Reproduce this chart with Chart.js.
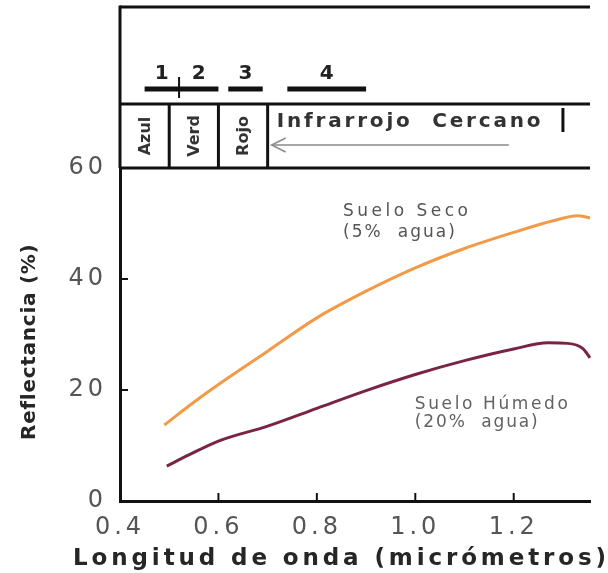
<!DOCTYPE html>
<html>
<head>
<meta charset="utf-8">
<script src="https://cdn.jsdelivr.net/npm/chart.js@4.4.1/dist/chart.umd.min.js"></script>
<style>
  html, body { margin: 0; padding: 0; background: #fff; }
  #wrap { width: 608px; height: 573px; position: relative; }
</style>
</head>
<body>
<div id="wrap"><canvas id="c" width="608" height="573"></canvas></div>
<script>
// Spectral reflectance of bare soil at two moisture contents
const wavelengthDry = [0.49, 0.55, 0.60, 0.70, 0.80, 0.90, 1.00, 1.10, 1.20, 1.28, 1.33, 1.355];
const reflectanceDry = [13.7, 17.8, 21.0, 27.0, 33.0, 37.8, 42.0, 45.5, 48.4, 50.5, 51.4, 51.0];
const wavelengthWet = [0.495, 0.54, 0.60, 0.70, 0.80, 0.90, 1.00, 1.10, 1.20, 1.27, 1.31, 1.34, 1.355];
const reflectanceWet = [6.3, 8.3, 10.8, 13.5, 16.7, 19.9, 22.8, 25.3, 27.4, 28.5, 28.4, 27.5, 25.8];

// Axis ticks
const xTicks = [0.4, 0.6, 0.8, 1.0, 1.2];
const yTicks = [0, 20, 40, 60];

// Visible regions of the spectrum (micrometres)
const regionNames = ['Azul', 'Verd', 'Rojo'];
const regionEdges = [0.4, 0.5, 0.6, 0.7];
const nearInfraredLabel = 'Infrarrojo  Cercano';
const nearInfraredEnd = 1.3;

// Sensor bands (micrometres)
const sensorBandLabels = ['1', '2', '3', '4'];
const sensorBandStart = [0.45, 0.52, 0.62, 0.74];
const sensorBandEnd = [0.52, 0.60, 0.69, 0.90];

// Curve captions and axis titles
const dryCaption = ['Suelo Seco', '(5%  agua)'];
const wetCaption = ['Suelo Húmedo', '(20%  agua)'];
const xTitle = 'Longitud de onda (micrómetros)';
const yTitle = 'Reflectancia (%)';

const FONT = 'DejaVu Sans';

function seg(ctx, x1, y1, x2, y2) {
  ctx.beginPath(); ctx.moveTo(x1, y1); ctx.lineTo(x2, y2); ctx.stroke();
}

// Draws left-aligned text, tracking it out so it spans the given width
function fitText(ctx, text, x, y, width) {
  ctx.letterSpacing = '0px';
  const natural = ctx.measureText(text).width;
  const spacing = (width - natural) / Math.max(1, text.length - 1);
  ctx.letterSpacing = spacing.toFixed(2) + 'px';
  ctx.fillText(text, x, y);
  ctx.letterSpacing = '0px';
}

const spectrumFrame = {
  id: 'spectrumFrame',
  beforeDraw(chart) {
    // wide tracking for the axis tick labels
    chart.ctx.letterSpacing = '4px';
  },
  afterDraw(chart) {
    const { ctx, chartArea: a, scales: { x, y } } = chart;
    const X = v => x.getPixelForValue(v);
    const Y = v => y.getPixelForValue(v);
    ctx.save();
    ctx.letterSpacing = '0px';

    const bandTop = 7, bandMid = 104, bandBot = a.top;

    // frame of the spectrum band above the plot
    ctx.strokeStyle = '#111';
    ctx.lineWidth = 3;
    ctx.lineCap = 'butt';
    seg(ctx, a.left, bandTop - 1.5, a.left, a.top);
    seg(ctx, a.left, bandTop, a.right, bandTop);
    seg(ctx, a.left, bandMid, a.right, bandMid);
    seg(ctx, a.left, bandBot, a.right, bandBot);
    for (let i = 1; i < regionEdges.length; i++) {
      seg(ctx, X(regionEdges[i]), bandMid, X(regionEdges[i]), bandBot);
    }
    seg(ctx, X(nearInfraredEnd), bandMid + 4, X(nearInfraredEnd), bandMid + 28);

    // inward tick marks
    ctx.lineWidth = 2;
    yTicks.filter(v => v > y.min && v < y.max).forEach(v => seg(ctx, a.left, Y(v), a.left + 8, Y(v)));
    xTicks.filter(v => v > x.min).forEach(v => seg(ctx, X(v), a.bottom, X(v), a.bottom - 8));

    // region names, written upwards
    ctx.fillStyle = '#333';
    ctx.font = 'bold 16px "' + FONT + '"';
    ctx.textAlign = 'center';
    ctx.textBaseline = 'middle';
    regionNames.forEach((name, i) => {
      const cx = (X(regionEdges[i]) + X(regionEdges[i + 1])) / 2;
      ctx.save();
      ctx.translate(cx + 1, (bandMid + bandBot) / 2);
      ctx.rotate(-Math.PI / 2);
      ctx.fillText(name, 0, 0);
      ctx.restore();
    });

    // near infrared label and arrow
    ctx.textAlign = 'left';
    ctx.font = 'bold 20px "' + FONT + '"';
    fitText(ctx, nearInfraredLabel, X(regionEdges[3]) + 9, 122, 264);
    ctx.strokeStyle = '#8a8a8a';
    ctx.lineWidth = 1.5;
    const tip = X(regionEdges[3]) + 4;
    seg(ctx, tip, 145, X(1.19), 145);
    ctx.beginPath();
    ctx.moveTo(tip + 14, 138); ctx.lineTo(tip, 145); ctx.lineTo(tip + 14, 152);
    ctx.stroke();

    // sensor bands
    ctx.strokeStyle = '#111';
    ctx.fillStyle = '#222';
    ctx.font = 'bold 20px "' + FONT + '"';
    ctx.textAlign = 'center';
    sensorBandLabels.forEach((lab, i) => {
      const x1 = X(sensorBandStart[i]), x2 = X(sensorBandEnd[i]);
      ctx.lineWidth = 5;
      seg(ctx, x1, 89, x2, 89);
      ctx.fillText(lab, (x1 + x2) / 2, 74);
      if (i > 0 && sensorBandStart[i] === sensorBandEnd[i - 1]) {
        ctx.lineWidth = 2;
        seg(ctx, x1, 77, x1, 98);
      }
    });

    // axis titles
    ctx.textAlign = 'left';
    ctx.fillStyle = '#262626';
    ctx.font = 'bold 20px "' + FONT + '"';
    ctx.save();
    ctx.translate(30, 440);
    ctx.rotate(-Math.PI / 2);
    fitText(ctx, yTitle, 0, 0, 195);
    ctx.restore();
    ctx.font = 'bold 23px "' + FONT + '"';
    fitText(ctx, xTitle, 73, 559, 533);

    // curve captions
    ctx.font = '17px "' + FONT + '"';
    ctx.fillStyle = '#555';
    fitText(ctx, dryCaption[0], X(0.853), Y(52.1), 125);
    fitText(ctx, dryCaption[1], X(0.853), Y(48.3), 112);
    ctx.fillStyle = '#626262';
    fitText(ctx, wetCaption[0], X(0.999), Y(17.3), 153);
    fitText(ctx, wetCaption[1], X(0.999), Y(14.2), 123);

    ctx.restore();
    ctx.letterSpacing = '0px';
  }
};

const toPoints = (xs, ys) => xs.map((v, i) => ({ x: v, y: ys[i] }));

new Chart(document.getElementById('c'), {
  type: 'line',
  data: {
    datasets: [
      {
        label: dryCaption[0],
        data: toPoints(wavelengthDry, reflectanceDry),
        borderColor: '#f29a48',
        borderWidth: 3,
        pointRadius: 0,
        cubicInterpolationMode: 'monotone',
        fill: false,
        clip: false
      },
      {
        label: wetCaption[0],
        data: toPoints(wavelengthWet, reflectanceWet),
        borderColor: '#7a2445',
        borderWidth: 3,
        pointRadius: 0,
        cubicInterpolationMode: 'monotone',
        fill: false,
        clip: false
      }
    ]
  },
  options: {
    responsive: false,
    animation: false,
    devicePixelRatio: 1,
    layout: { padding: { top: 168, right: 18, left: 0, bottom: 0 } },
    plugins: { legend: { display: false }, tooltip: { enabled: false } },
    scales: {
      x: {
        type: 'linear',
        min: 0.4,
        max: 1.355,
        afterBuildTicks: s => { s.ticks = xTicks.map(v => ({ value: v })); },
        afterFit: s => { s.height = 72; },
        grid: { display: false, drawTicks: false },
        border: { display: true, color: '#111', width: 3 },
        ticks: {
          z: 1, padding: 12, color: '#555', autoSkip: false, maxRotation: 0,
          font: { family: FONT, size: 24 },
          callback: v => Number(v).toFixed(1)
        },
        title: { display: false }
      },
      y: {
        min: 0,
        max: 60,
        afterBuildTicks: s => { s.ticks = yTicks.map(v => ({ value: v })); },
        afterFit: s => { s.width = 120; },
        grid: { display: false, drawTicks: false },
        border: { display: true, color: '#111', width: 3 },
        ticks: {
          z: 1, padding: 13, color: '#555', autoSkip: false,
          font: { family: FONT, size: 24 },
          callback: v => String(v)
        },
        title: { display: false }
      }
    }
  },
  plugins: [spectrumFrame]
});
</script>
</body>
</html>
